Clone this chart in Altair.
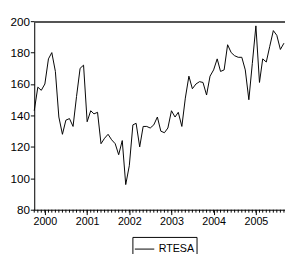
import altair as alt
import pandas as pd

# ---- data ----
start_month = "1999-10-01"
series_name = "RTESA"
values = [
    143, 158, 156, 160, 176, 180, 168, 139, 128, 137, 138, 133,
    152, 170, 172, 136, 143, 141, 142, 122, 125.5, 128, 124.5, 122,
    115, 124, 96, 108, 134, 135, 120, 133, 133, 132, 134, 139,
    130, 129, 132, 143, 139, 142, 133, 151, 165, 157, 160, 161.5,
    161, 153, 165, 169, 176, 168, 169, 185, 180, 178, 177, 177,
    169, 150, 173, 197, 161, 176, 174, 184, 194, 191, 182, 186,
]
year_labels = [2000, 2001, 2002, 2003, 2004, 2005]
y_ticks = [80, 100, 120, 140, 160, 180, 200]

dates = pd.date_range(start_month, periods=len(values), freq="MS")
df = pd.DataFrame({"date": dates.strftime("%Y-%m-%d"), "value": values, "series": series_name})

W, H = 258, 194
FONT = "Liberation Sans"

x_scale = alt.Scale(domain=[alt.DateTime(year=1999, month=10, date=1),
                            alt.DateTime(year=2005, month=9, date=10)])
y_scale = alt.Scale(domain=[80, 200], nice=False, zero=False)

x_axis = alt.Axis(values=[alt.DateTime(year=y, month=1, date=1) for y in year_labels],
                  format="%Y", title=None, grid=False, tickSize=5, labelPadding=1,
                  domainColor="black", tickColor="black", labelColor="black",
                  labelFont=FONT, labelFontSize=11, labelFlush=False, labelOverlap=False)
y_axis = alt.Axis(values=y_ticks, title=None, grid=False, tickSize=4, labelPadding=1,
                  domainColor="black", tickColor="black", labelColor="black",
                  labelFont=FONT, labelFontSize=12)

base = alt.Chart(df)

line = base.mark_line(strokeWidth=1).encode(
    x=alt.X("date:T", scale=x_scale, axis=x_axis),
    y=alt.Y("value:Q", scale=y_scale, axis=y_axis),
    color=alt.Color("series:N", scale=alt.Scale(range=["black"]),
                    legend=alt.Legend(orient="none", legendX=101, legendY=222, title=None,
                                      symbolType="stroke", symbolSize=400,
                                      symbolStrokeWidth=1, symbolStrokeColor="black",
                                      strokeColor="black", fillColor="white", padding=2,
                                      labelFont=FONT, labelFontSize=11, labelColor="black",
                                      labelOffset=4)),
)

minor = base.mark_rule(color="black", strokeWidth=1).encode(
    x=alt.X("date:T", scale=x_scale),
    y=alt.value(H),
    y2=alt.value(H + 3),
)

top = base.mark_rule(color="#555555", strokeWidth=1).encode(
    x=alt.value(0), x2=alt.value(W), y=alt.value(0.5)
)

chart = alt.layer(minor, top, line).properties(
    width=W, height=H,
    autosize=alt.AutoSizeParams(type="none"),
    padding={"left": 27, "top": 10, "right": 0, "bottom": 42},
).configure_view(stroke=None).configure(background="white")

chart.save("out.html", embed_options={"renderer": "svg", "actions": False})
